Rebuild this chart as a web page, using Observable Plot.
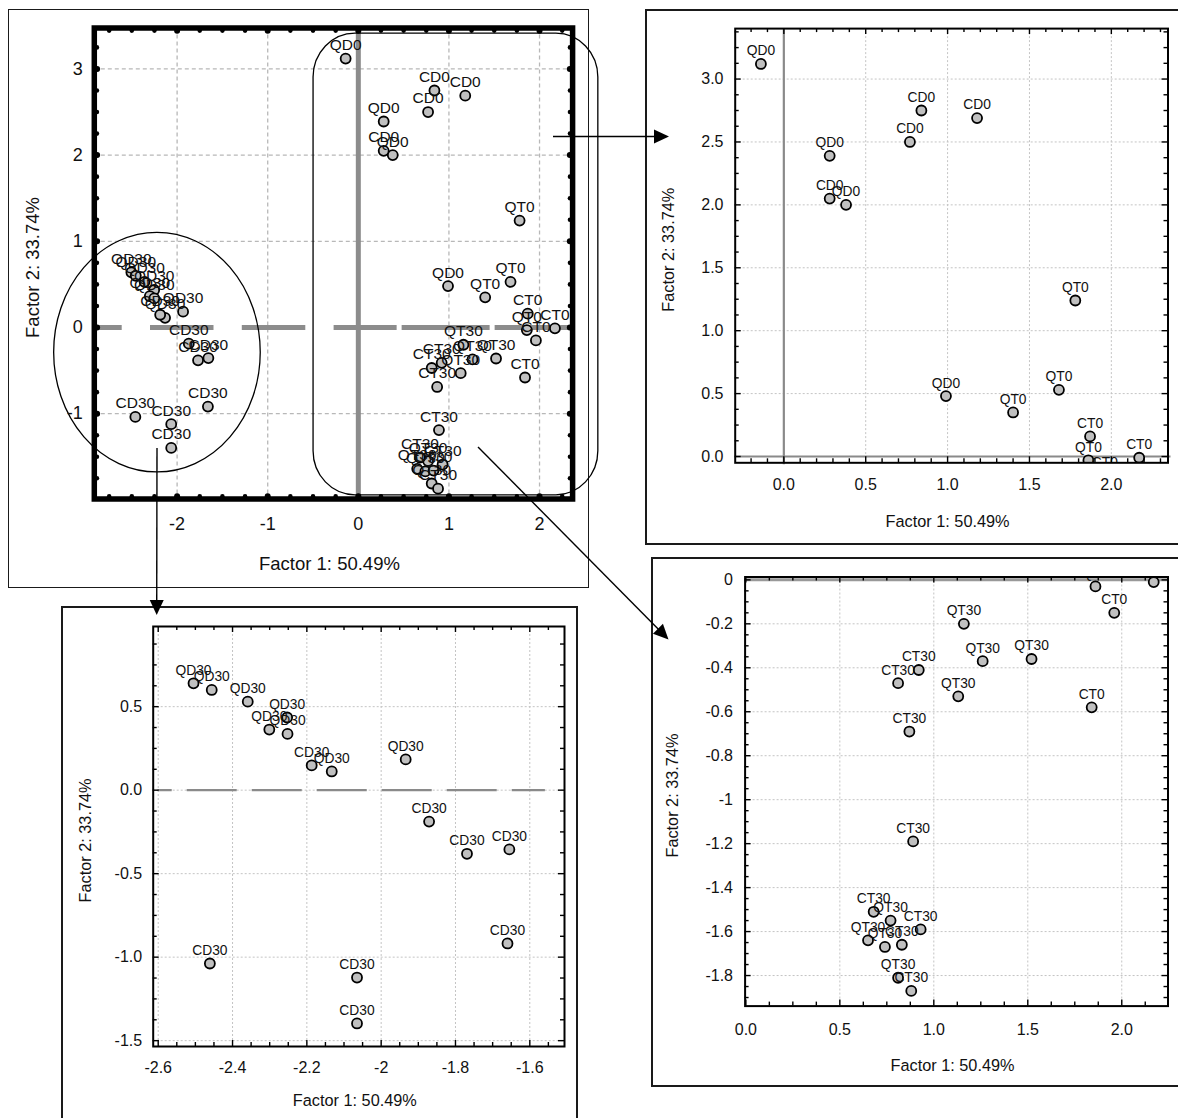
<!DOCTYPE html>
<html><head><meta charset="utf-8">
<script src="https://cdn.jsdelivr.net/npm/d3@7"></script>
<script src="https://cdn.jsdelivr.net/npm/@observablehq/plot@0.6"></script>
<style>
html,body{margin:0;padding:0;background:#fff;}
#page{position:relative;width:1178px;height:1118px;overflow:hidden;font-family:"Liberation Sans",Arial,sans-serif;}
.box{position:absolute;box-sizing:border-box;}
</style></head><body><div id="page"></div>
<script>
// ---------------- data ----------------
const sample = [
  "QD0","QD0","QD0","QD0",
  "CD0","CD0","CD0","CD0",
  "QT0","QT0","QT0","QT0",
  "CT0","CT0","CT0","CT0",
  "QT30","QT30","QT30","QT30","QT30","QT30","QT30","QT30",
  "CT30","CT30","CT30","CT30","CT30","CT30","CT30","CT30",
  "QD30","QD30","QD30","QD30","QD30","QD30","QD30","QD30",
  "CD30","CD30","CD30","CD30","CD30","CD30","CD30","CD30"
];
const factor1 = [
  -0.14, 0.28, 0.38, 0.99,
  0.84, 1.18, 0.77, 0.28,
  1.78, 1.68, 1.40, 1.86,
  1.87, 2.17, 1.96, 1.84,
  1.16, 1.26, 1.52, 1.13, 0.77, 0.65, 0.74, 0.81,
  0.92, 0.81, 0.87, 0.89, 0.68, 0.93, 0.83, 0.88,
  -2.505, -2.456, -2.359, -2.253, -2.301, -2.252, -2.133, -1.934,
  -2.187, -1.871, -1.769, -1.655, -1.660, -2.461, -2.065, -2.065
];
const factor2 = [
  3.12, 2.39, 2.00, 0.48,
  2.75, 2.69, 2.50, 2.05,
  1.24, 0.53, 0.35, -0.03,
  0.16, -0.01, -0.15, -0.58,
  -0.20, -0.37, -0.36, -0.53, -1.55, -1.64, -1.67, -1.81,
  -0.41, -0.47, -0.69, -1.19, -1.51, -1.59, -1.66, -1.87,
  0.64, 0.60, 0.53, 0.435, 0.363, 0.337, 0.112, 0.184,
  0.148, -0.188, -0.381, -0.355, -0.918, -1.038, -1.122, -1.397
];
const xTitle = "Factor 1: 50.49%";
const yTitle = "Factor 2: 33.74%";

const mainXTicks = [-2, -1, 0, 1, 2];
const mainYTicks = [-1, 0, 1, 2, 3];
const trXTicks = [0, 0.5, 1, 1.5, 2];
const trYTicks = [0, 0.5, 1, 1.5, 2, 2.5, 3];
const brXTicks = [0, 0.5, 1, 1.5, 2];
const brYTicks = [0, -0.2, -0.4, -0.6, -0.8, -1, -1.2, -1.4, -1.6, -1.8];
const blXTicks = [-2.6, -2.4, -2.2, -2, -1.8, -1.6];
const blYTicks = [0.5, 0, -0.5, -1, -1.5];

// group outlines drawn on the overview (data units)
const ellipseRegion = [{x1: -3.357, x2: -1.077, y1: -1.682, y2: 1.098}];
const roundedRegion = [{x1: -0.494, x2: 2.649, y1: -1.947, y2: 3.41}];

const points = sample.map((s, i) => ({sample: s, f1: factor1[i], f2: factor2[i]}));

// ---------------- helpers ----------------
const page = document.getElementById("page");
const FONT = '"Liberation Sans", Arial, sans-serif';
const range = (a, b, s) => Array.from({length: Math.round((b - a) / s) + 1}, (_, i) => +(a + i * s).toFixed(4));
const minors = (a, b, s, maj) => range(a, b, s).filter(v => !maj.some(m => Math.abs(m - v) < 1e-6));
const fmt1 = d => d.toFixed(1);
const fmtShort = d => String(+d.toFixed(1));

function addBox(b) {
  const d = document.createElement("div");
  d.className = "box";
  Object.assign(d.style, {left: b.left + "px", top: b.top + "px", width: b.width + "px", height: b.height + "px",
    border: `${b.bw}px solid #1a1a1a`});
  page.appendChild(d);
}
function place(svg, left, top) {
  svg.style.position = "absolute";
  svg.style.left = left + "px";
  svg.style.top = top + "px";
  page.appendChild(svg);
}
function frameTicks(xMaj, xMin, yMaj, yMin, pw, ph) {
  const m = [], st = {stroke: "#000", strokeWidth: 1.4};
  for (const [vals, len] of [[xMaj, 6], [xMin, 4]]) {
    m.push(Plot.tickX(vals, {x: d => d, insetTop: ph - len, ...st}));
    m.push(Plot.tickX(vals, {x: d => d, insetBottom: ph - len, ...st}));
  }
  for (const [vals, len] of [[yMaj, 6], [yMin, 4]]) {
    m.push(Plot.tickY(vals, {y: d => d, insetRight: pw - len, ...st}));
    m.push(Plot.tickY(vals, {y: d => d, insetLeft: pw - len, ...st}));
  }
  return m;
}
function titles(dyX, dxY, size) {
  return [
    Plot.text([xTitle], {text: d => d, frameAnchor: "bottom", dy: dyX, dx: -4, fontSize: size, textAnchor: "middle", lineAnchor: "middle", fill: "#111"}),
    Plot.text([yTitle], {text: d => d, frameAnchor: "left", dx: dxY, dy: 4, rotate: -90, fontSize: size, textAnchor: "middle", lineAnchor: "middle", fill: "#111"})
  ];
}
// points of one panel: those inside its domain, plus the ones just past an edge that show partly
function pointMarks(r, fs, dy, clip, xd, yd, padX = 0.1, padY = 0.12) {
  const pts = points.filter(p => p.f1 >= xd[0] - padX && p.f1 <= xd[1] + padX && p.f2 >= yd[0] - padY && p.f2 <= yd[1] + padY);
  return [
    Plot.dot(pts, {x: "f1", y: "f2", r, fill: "#c0c0c0", stroke: "#000", strokeWidth: 1.8, clip}),
    Plot.text(pts, {x: "f1", y: "f2", text: "sample", dy, fontSize: fs, fill: "#111", clip})
  ];
}
const styleBase = {fontFamily: FONT, background: "transparent", overflow: "visible", color: "#111"};

// ---------------- outer boxes ----------------
addBox({left: 7.7, top: 8.7, width: 581.3, height: 579.8, bw: 1.5});
addBox({left: 645.2, top: 8.8, width: 600, height: 536.6, bw: 2});
addBox({left: 650.7, top: 556.9, width: 600, height: 530.5, bw: 2});
addBox({left: 60.7, top: 606.3, width: 517, height: 600, bw: 2});

// ---------------- main overview ----------------
{
  const W = 600, H = 600, ml = 93.8, mr = 27.9, mt = 27.5, mb = 101.5;
  const xd = [-2.914, 2.365], yd = [-1.99, 3.475];
  const xDots = range(-2.75, 2.25, 0.25), yDots = range(-1.75, 3.25, 0.25);
  const xDotsMin = xDots.filter(v => !Number.isInteger(v)), yDotsMin = yDots.filter(v => !Number.isInteger(v));
  const dotSt = {fill: "#000", stroke: "none"};
  const svg = Plot.plot({
    width: W, height: H, marginLeft: ml, marginRight: mr, marginTop: mt, marginBottom: mb,
    x: {domain: xd, label: null}, y: {domain: yd, label: null},
    style: {...styleBase, fontSize: "18px"},
    marks: [
      Plot.ruleX(mainXTicks.filter(v => v !== 0), {x: d => d, stroke: "#b8b8b8", strokeWidth: 1.3, strokeDasharray: "4,3"}),
      Plot.ruleY(mainYTicks.filter(v => v !== 0), {y: d => d, stroke: "#b8b8b8", strokeWidth: 1.3, strokeDasharray: "4,3"}),
      Plot.ruleX([0], {x: d => d, stroke: "#8c8c8c", strokeWidth: 5}),
      Plot.ruleY([0], {y: d => d, x1: () => xd[0], x2: () => -0.267, stroke: "#8c8c8c", strokeWidth: 5, strokeDasharray: "63.5,28.3", strokeDashoffset: 35.6}),
      Plot.ruleY([0], {y: d => d, x1: () => -0.267, x2: () => xd[1], stroke: "#8c8c8c", strokeWidth: 5, strokeDasharray: "63,5,88,5,300"}),
      Plot.rect(ellipseRegion, {x1: "x1", x2: "x2", y1: "y1", y2: "y2", rx: 1000, ry: 1000, fill: "none", stroke: "#000", strokeWidth: 1.3}),
      Plot.rect(roundedRegion, {x1: "x1", x2: "x2", y1: "y1", y2: "y2", rx: 42, ry: 44, fill: "none", stroke: "#000", strokeWidth: 1.3}),
      ...pointMarks(5, 15.5, -13.5, false, xd, yd),
      Plot.frame({stroke: "#000", strokeWidth: 5.5}),
      Plot.dot(xDotsMin, {x: d => d, frameAnchor: "top", dy: 2.6, r: 2.3, ...dotSt}),
      Plot.dot(xDotsMin, {x: d => d, frameAnchor: "bottom", dy: -2.6, r: 2.3, ...dotSt}),
      Plot.dot(yDotsMin, {y: d => d, frameAnchor: "left", dx: 2.6, r: 2.3, ...dotSt}),
      Plot.dot(yDotsMin, {y: d => d, frameAnchor: "right", dx: -2.6, r: 2.3, ...dotSt}),
      Plot.dot(mainXTicks, {x: d => d, frameAnchor: "top", dy: 2.8, r: 3, ...dotSt}),
      Plot.dot(mainXTicks, {x: d => d, frameAnchor: "bottom", dy: -2.8, r: 3, ...dotSt}),
      Plot.dot(mainYTicks, {y: d => d, frameAnchor: "left", dx: 2.8, r: 3, ...dotSt}),
      Plot.dot(mainYTicks, {y: d => d, frameAnchor: "right", dx: -2.8, r: 3, ...dotSt}),
      Plot.axisX(mainXTicks, {anchor: "bottom", tickSize: 0, tickPadding: 18, tickFormat: d => String(d), fontSize: 18, label: null}),
      Plot.axisY(mainYTicks, {anchor: "left", tickSize: 0, tickPadding: 11.5, tickFormat: d => String(d), fontSize: 18, label: null}),
      ...titles(65.5, -61.3, 18.5)
    ]
  });
  place(svg, 0, 0);
}

// ---------------- top-right detail ----------------
{
  const W = 532, H = 534, ml = 88.7, mr = 10.5, mt = 18.1, mb = 81.7;
  const xd = [-0.297, 2.346], yd = [-0.05, 3.401];
  const svg = Plot.plot({
    width: W, height: H, marginLeft: ml, marginRight: mr, marginTop: mt, marginBottom: mb,
    x: {domain: xd, label: null}, y: {domain: yd, label: null},
    style: {...styleBase, fontSize: "16px"},
    marks: [
      Plot.ruleX(trXTicks.filter(v => v !== 0), {x: d => d, stroke: "#c4c4c4", strokeWidth: 1, strokeDasharray: "2,2"}),
      Plot.ruleY(trYTicks.filter(v => v !== 0), {y: d => d, stroke: "#c4c4c4", strokeWidth: 1, strokeDasharray: "2,2"}),
      Plot.ruleX([0], {x: d => d, stroke: "#8a8a8a", strokeWidth: 2.2, insetBottom: -2}),
      Plot.ruleY([0], {y: d => d, stroke: "#8a8a8a", strokeWidth: 2.2, insetRight: -3}),
      ...pointMarks(5, 13.8, -13, true, xd, yd),
      Plot.frame({stroke: "#000", strokeWidth: 2}),
      ...frameTicks(trXTicks, minors(-0.2, 2.3, 0.1, trXTicks), trYTicks, minors(0.125, 3.375, 0.125, trYTicks), W - ml - mr, H - mt - mb),
      Plot.axisX(trXTicks, {anchor: "bottom", tickSize: 0, tickPadding: 16.1, tickFormat: fmt1, fontSize: 16, label: null}),
      Plot.axisY(trYTicks, {anchor: "left", tickSize: 0, tickPadding: 11.7, tickFormat: fmt1, fontSize: 16, label: null}),
      ...titles(59.4, -66, 16.3)
    ]
  });
  place(svg, 646, 10);
}

// ---------------- bottom-right detail ----------------
{
  const W = 526, H = 528, ml = 92.6, mr = 10.5, mt = 18.5, mb = 80.4;
  const xd = [-0.004, 2.246], yd = [-1.939, 0.013];
  const svg = Plot.plot({
    width: W, height: H, marginLeft: ml, marginRight: mr, marginTop: mt, marginBottom: mb,
    x: {domain: xd, label: null}, y: {domain: yd, label: null},
    style: {...styleBase, fontSize: "16px"},
    marks: [
      Plot.ruleX(brXTicks.filter(v => v !== 0), {x: d => d, stroke: "#c4c4c4", strokeWidth: 1, strokeDasharray: "2,2"}),
      Plot.ruleY(brYTicks.filter(v => v !== 0), {y: d => d, stroke: "#c4c4c4", strokeWidth: 1, strokeDasharray: "2,2"}),
      Plot.ruleY([0], {y: d => d, stroke: "#999", strokeWidth: 3}),
      ...pointMarks(5, 13.8, -13, true, xd, yd),
      Plot.frame({stroke: "#000", strokeWidth: 2}),
      ...frameTicks(brXTicks, minors(0.125, 2.125, 0.125, brXTicks), brYTicks, minors(-1.9, -0.05, 0.05, brYTicks), W - ml - mr, H - mt - mb),
      Plot.axisX(brXTicks, {anchor: "bottom", tickSize: 0, tickPadding: 17.8, tickFormat: fmt1, fontSize: 16, label: null}),
      Plot.axisY(brYTicks, {anchor: "left", tickSize: 0, tickPadding: 12.1, tickFormat: fmtShort, fontSize: 16, label: null}),
      ...titles(59.4, -72, 16.3)
    ]
  });
  place(svg, 652, 558);
}

// ---------------- bottom-left detail ----------------
{
  const W = 515, H = 511, ml = 90.7, mr = 13, mt = 19, mb = 72;
  const xd = [-2.6135, -1.5066], yd = [-1.535, 0.98];
  const svg = Plot.plot({
    width: W, height: H, marginLeft: ml, marginRight: mr, marginTop: mt, marginBottom: mb,
    x: {domain: xd, label: null}, y: {domain: yd, label: null},
    style: {...styleBase, fontSize: "16px"},
    marks: [
      Plot.ruleX(blXTicks, {x: d => d, stroke: "#c4c4c4", strokeWidth: 1, strokeDasharray: "2,2"}),
      Plot.ruleY(blYTicks, {y: d => d, stroke: "#c4c4c4", strokeWidth: 1, strokeDasharray: "2,2"}),
      Plot.ruleY([0], {y: d => d, x1: () => -2.6, x2: () => -1.558, stroke: "#8a8a8a", strokeWidth: 2.2, strokeDasharray: "50,15", strokeDashoffset: 36}),
      ...pointMarks(5, 13.8, -13, true, xd, yd),
      Plot.frame({stroke: "#000", strokeWidth: 2}),
      ...frameTicks(blXTicks, minors(-2.6, -1.55, 0.05, blXTicks), blYTicks, minors(-1.5, 0.875, 0.125, blYTicks), W - ml - mr, H - mt - mb),
      Plot.axisX(blXTicks, {anchor: "bottom", tickSize: 0, tickPadding: 15.1, tickFormat: fmtShort, fontSize: 16, label: null}),
      Plot.axisY(blYTicks, {anchor: "left", tickSize: 0, tickPadding: 11, tickFormat: fmt1, fontSize: 16, label: null}),
      ...titles(54, -67.7, 16.3)
    ]
  });
  place(svg, 62, 607);
}

// ---------------- connector arrows (layout) ----------------
{
  const connectors = [
    {from: [553, 136.5], to: [669, 136.5]},
    {from: [157, 448], to: [156.7, 615]},
    {from: [478, 447], to: [668.5, 639.4]}
  ];
  const NS = "http://www.w3.org/2000/svg";
  const svg = document.createElementNS(NS, "svg");
  svg.setAttribute("width", 1178); svg.setAttribute("height", 1118);
  Object.assign(svg.style, {position: "absolute", left: "0px", top: "0px", pointerEvents: "none"});
  const headLen = 15, headHalf = 7;
  for (const c of connectors) {
    const [x1, y1] = c.from, [x2, y2] = c.to;
    const L = Math.hypot(x2 - x1, y2 - y1), ux = (x2 - x1) / L, uy = (y2 - y1) / L;
    const bx = x2 - ux * headLen, by = y2 - uy * headLen;
    const line = document.createElementNS(NS, "line");
    line.setAttribute("x1", x1); line.setAttribute("y1", y1);
    line.setAttribute("x2", bx + ux); line.setAttribute("y2", by + uy);
    line.setAttribute("stroke", "#000"); line.setAttribute("stroke-width", 1.4);
    svg.appendChild(line);
    const poly = document.createElementNS(NS, "polygon");
    poly.setAttribute("points", `${x2},${y2} ${bx - uy * headHalf},${by + ux * headHalf} ${bx + uy * headHalf},${by - ux * headHalf}`);
    poly.setAttribute("fill", "#000");
    svg.appendChild(poly);
  }
  page.appendChild(svg);
}
</script></body></html>
